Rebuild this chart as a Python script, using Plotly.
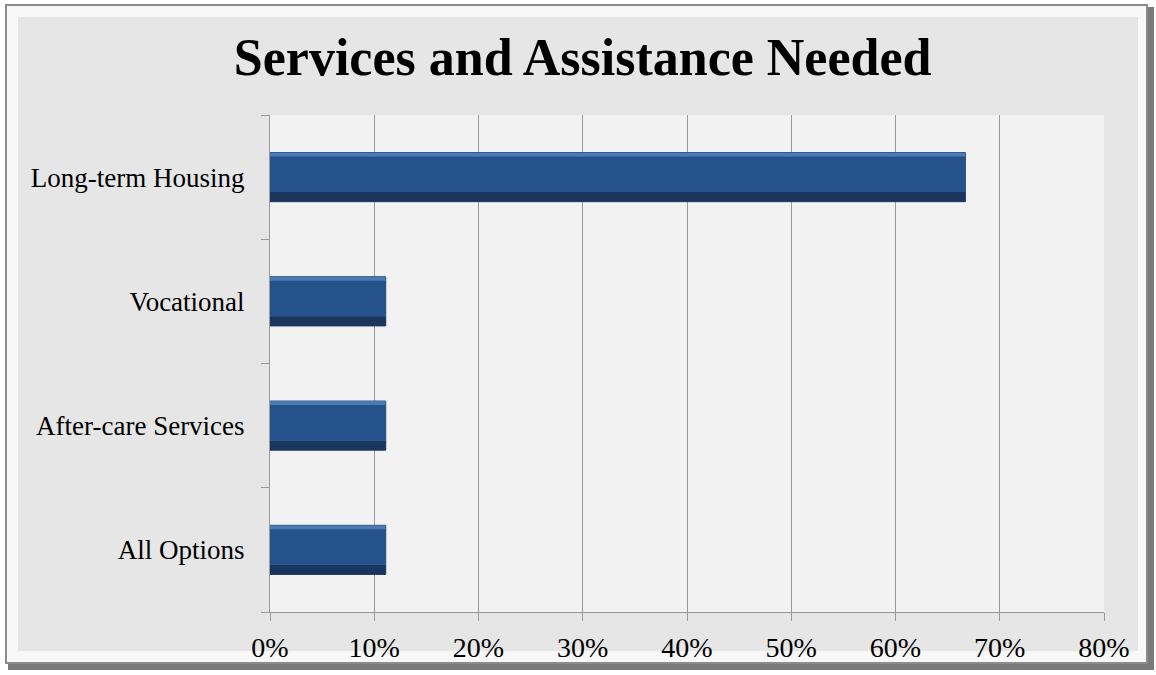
import plotly.graph_objects as go

categories = ["Long-term Housing", "Vocational", "After-care Services", "All Options"]
values = [0.667, 0.111, 0.111, 0.111]
tick_vals = [0, 0.1, 0.2, 0.3, 0.4, 0.5, 0.6, 0.7, 0.8]
tick_text = ["0%", "10%", "20%", "30%", "40%", "50%", "60%", "70%", "80%"]

W, H = 1156, 675
L, R, T, B = 270, 52, 115, 63
pw, ph = W - L - R, H - T - B

def px_x(x):
    return (x - L) / pw

def px_y(y):
    return (H - B - y) / ph

fig = go.Figure()
# bevelled bar look: dark base, light top band, main face
layers = [
    (-0.1975, 0.395, "#1a365e", dict(color="#1a365e", width=1)),
    (-0.12, 0.3175, "#4b79b4", dict(width=0)),
    (-0.12, 0.285, "#26528b", dict(width=0)),
]
for off, wid, col, ln in layers:
    fig.add_trace(go.Bar(
        y=categories, x=values, orientation="h",
        offset=off, width=wid,
        marker=dict(color=col, line=ln),
        hoverinfo="skip",
    ))

serif = "'Liberation Serif', serif"

shapes = [
    dict(type="rect", xref="paper", yref="paper", layer="below",
         x0=px_x(8), x1=px_x(1154), y0=px_y(670), y1=px_y(7),
         fillcolor="#7a7a7a", line=dict(width=0)),
    dict(type="rect", xref="paper", yref="paper", layer="below",
         x0=px_x(6), x1=px_x(1147), y0=px_y(663), y1=px_y(5),
         fillcolor="#f8f8f8", line=dict(color="#8c8c8c", width=2)),
    dict(type="rect", xref="paper", yref="paper", layer="below",
         x0=px_x(18), x1=px_x(1138), y0=px_y(651), y1=px_y(17),
         fillcolor="#e6e6e6", line=dict(width=0)),
    dict(type="rect", xref="paper", yref="paper", layer="below",
         x0=0, x1=1, y0=0, y1=1,
         fillcolor="#f2f2f2", line=dict(width=0)),
]

fig.update_layout(
    width=W, height=H,
    margin=dict(l=L, r=R, t=T, b=B, autoexpand=False),
    paper_bgcolor="#ffffff",
    plot_bgcolor="#f2f2f2",
    barmode="overlay",
    showlegend=False,
    shapes=shapes,
    title=dict(text="<b>Services and Assistance Needed</b>",
               x=0.504, xanchor="center", y=1 - 57 / H, yanchor="middle",
               yref="container",
               font=dict(family=serif, size=52, color="#000000")),
    xaxis=dict(range=[0, 0.8], tickvals=tick_vals, ticktext=tick_text,
               showgrid=True, gridcolor="#999999", gridwidth=1,
               showline=True, linecolor="#999999", linewidth=1,
               ticks="outside", ticklen=8, tickcolor="#999999",
               ticklabelstandoff=2, automargin=False,
               tickfont=dict(family=serif, size=28, color="#000000"),
               zeroline=False, fixedrange=True),
    yaxis=dict(categoryorder="array", categoryarray=categories[::-1],
               showgrid=False, showline=True, linecolor="#999999",
               ticks="outside", ticklen=8, tickcolor="#999999",
               tickson="boundaries", ticklabelstandoff=19, automargin=False,
               tickfont=dict(family=serif, size=27, color="#000000"),
               fixedrange=True),
)

fig.write_html("out.html")
